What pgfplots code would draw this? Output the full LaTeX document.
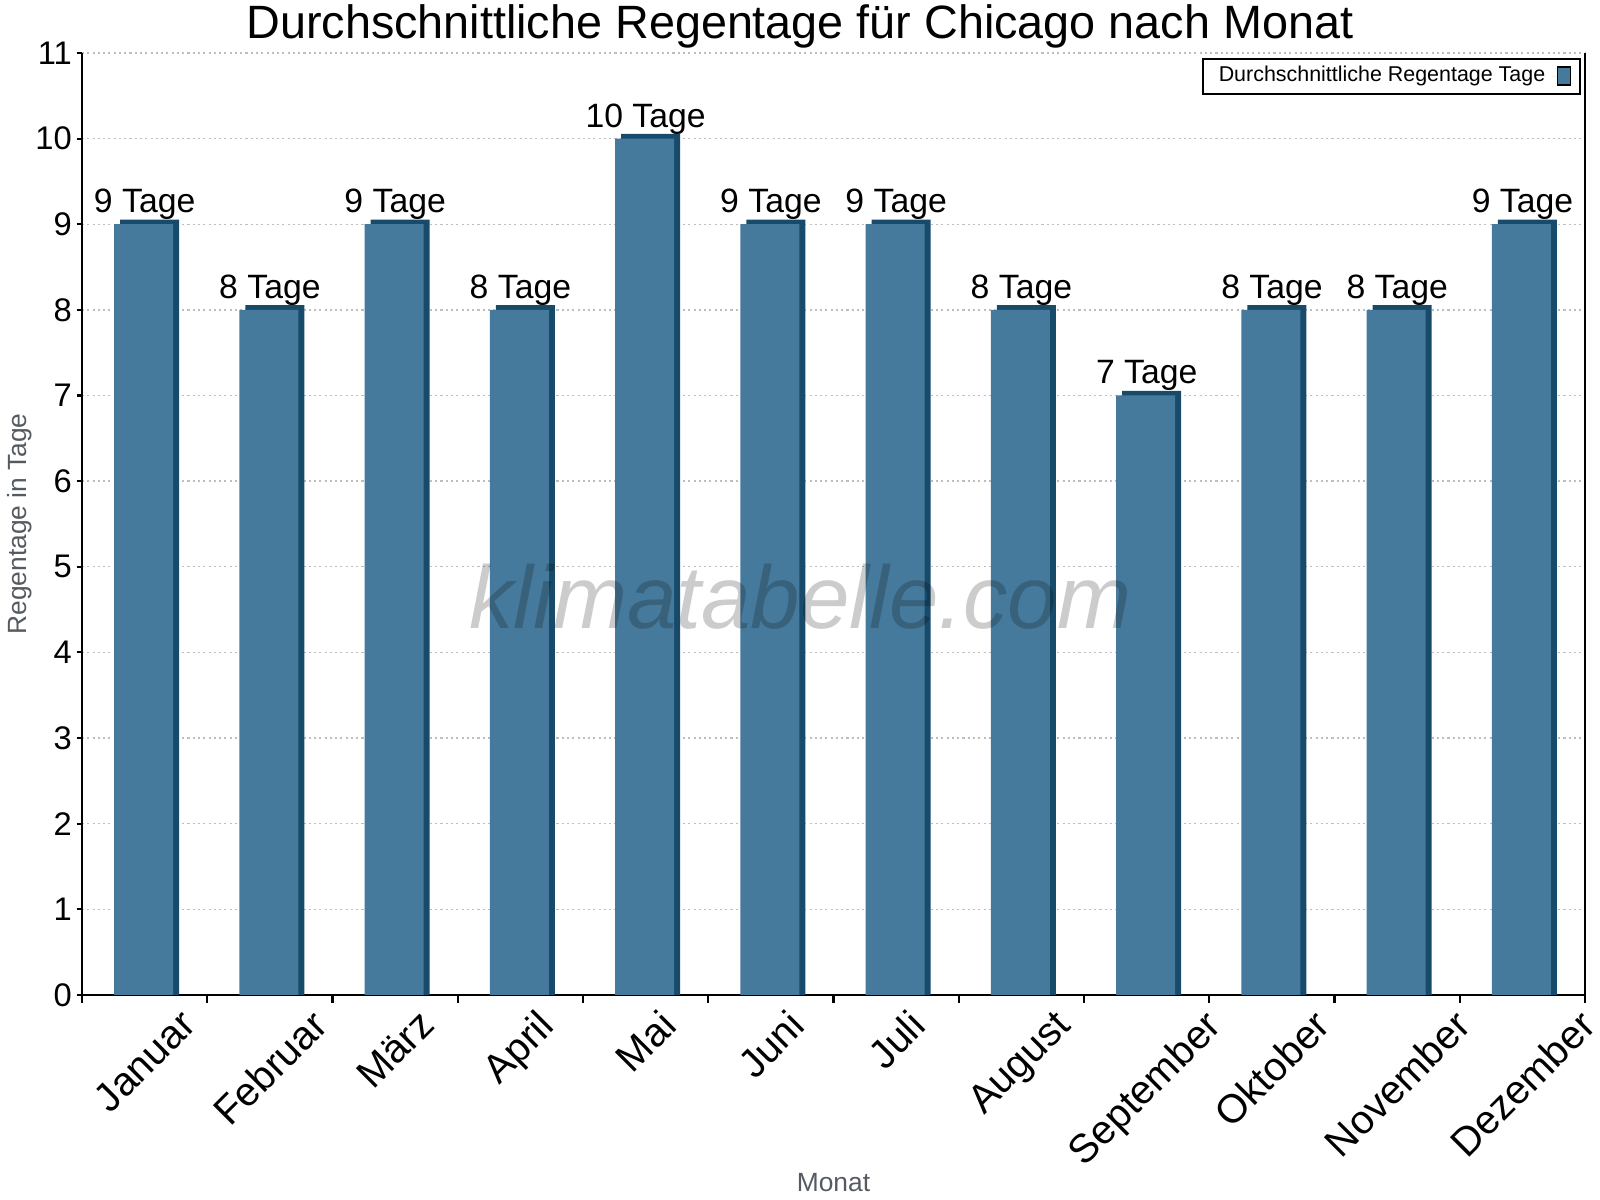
\documentclass[border=0pt]{standalone}
\usepackage{fontspec}
\setmainfont{Liberation Sans}
\usepackage{graphicx}
\usepackage{pgfplots}
\usepackage{pgfplotstable}
\pgfplotsset{compat=1.18}
\pgfkeys{/pgf/number format/assume math mode=true}
\definecolor{frontblue}{RGB}{70,122,156}
\definecolor{sideblue}{RGB}{24,74,106}
\definecolor{labelgray}{RGB}{84,90,96}
\definecolor{gridgray}{RGB}{190,190,190}

\pgfplotstableread{
x y
0 9
1 8
2 9
3 8
4 10
5 9
6 9
7 8
8 7
9 8
10 8
11 9
}\raindata

\begin{document}
\begin{tikzpicture}
\useasboundingbox (0,0) rectangle (455.24pt,341.43pt);
\node[anchor=base, font=\fontsize{13.3}{16}\selectfont] at (227.6pt,330.6pt) {Durchschnittliche Regentage für Chicago nach Monat};
\begin{axis}[
  at={(23.33pt,58.33pt)}, anchor=south west,
  scale only axis, width=427.65pt, height=268.03pt,
  xmin=-0.5, xmax=11.5, ymin=0, ymax=11,
  axis x line=bottom, axis y line=box,
  axis line style={-, line width=0.6pt},
  every outer x axis line/.append style={-},
  every outer y axis line/.append style={-},
  xtick={0,...,11},
  xticklabels={\rotatebox{45}{Januar},\rotatebox{45}{Februar},\rotatebox{45}{März},\rotatebox{45}{April},\rotatebox{45}{Mai},\rotatebox{45}{Juni},\rotatebox{45}{Juli},\rotatebox{45}{August},\rotatebox{45}{September},\rotatebox{45}{Oktober},\rotatebox{45}{November},\rotatebox{45}{Dezember}},
  minor xtick={-0.5,0.5,...,11.5},
  ytick={0,...,11},
  xtick pos=left, ytick pos=left,
  tick align=outside,
  major tick length=1.5pt, minor tick length=2.3pt,
  major x tick style={draw=none},
  minor x tick style={black, line width=0.6pt},
  major y tick style={black, line width=0.6pt},
  ymajorgrids,
  grid style={gridgray, dash pattern=on 0.6pt off 0.9pt, line width=0.4pt},
  yticklabel style={font=\fontsize{9.3}{11}\selectfont, inner sep=0pt, xshift=-1.2pt},
  xticklabel style={font=\fontsize{11.4}{13}\selectfont, anchor=north, inner sep=0pt, yshift=-2pt},
  ylabel={Regentage in Tage},
  ylabel style={at={(axis description cs:-0.0413,0.5)}, anchor=center, font=\fontsize{7.5}{9}\selectfont, text=labelgray},
  xlabel={Monat},
  xlabel style={at={(axis description cs:0.5,-0.1996)}, anchor=center, font=\fontsize{7.5}{9}\selectfont, text=labelgray},
  legend style={at={(axis description cs:0.9973,0.9947)}, anchor=north east, draw=black, line width=0.5pt, font=\fontsize{6.1}{7}\selectfont, inner xsep=2.5pt, inner ysep=0pt, legend plot pos=right, cells={anchor=west}},
]
\addplot[ybar, bar width=16.8pt, bar shift=1.4pt, fill=sideblue, draw=none, forget plot]
  table[x=x, y expr=\thisrow{y}+0.055] {\raindata};
\addplot[ybar, bar width=16.8pt, bar shift=-0.3pt, fill=frontblue, draw=none,
  nodes near coords={\pgfmathprintnumber{\pgfplotspointmeta} Tage},
  every node near coord/.append style={font=\fontsize{9.6}{11}\selectfont, anchor=south, inner sep=1.1pt, text=black},
  legend image code/.code={\path (0pt,0pt) -- (1.5pt,0pt); \draw[fill=frontblue, draw=black, line width=0.4pt] (1.5pt,-2.5pt) rectangle (5.2pt,2.6pt);}]
  table[x=x, y=y] {\raindata};
\addlegendentry{Durchschnittliche Regentage Tage}
\node[font=\fontsize{25.3}{30}\selectfont\itshape, text=black, text opacity=0.2] at (rel axis cs:0.478,0.4225) {klimatabelle.com};
\end{axis}
\end{tikzpicture}
\end{document}
